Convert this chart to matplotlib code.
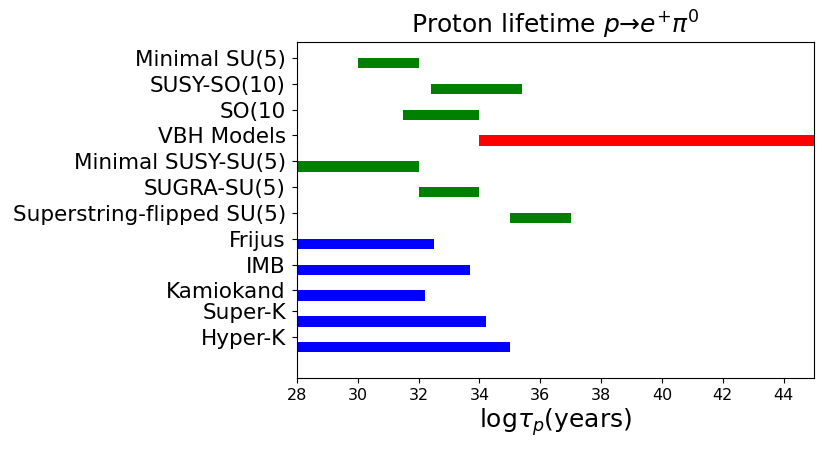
import matplotlib
matplotlib.use("Agg")
import matplotlib.pyplot as plt

labels = ["Minimal SU(5)", "SUSY-SO(10)", "SO(10", "VBH Models",
          "Minimal SUSY-SU(5)", "SUGRA-SU(5)", "Superstring-flipped SU(5)",
          "Frijus", "IMB", "Kamiokand", "Super-K", "Hyper-K"]
bar_pos = [12, 11, 10, 9, 8, 7, 6, 5, 4, 3, 2, 1]
tick_pos = [12.2, 11.2, 10.2, 9.2, 8.2, 7.2, 6.2, 5.2, 4.2, 3.2, 2.4, 1.4]
starts = [30.0, 32.4, 31.5, 34.0, 28.0, 32.0, 35.0, 28.0, 28.0, 28.0, 28.0, 28.0]
ends = [32.0, 35.4, 34.0, 50.0, 32.0, 34.0, 37.0, 32.5, 33.7, 32.2, 34.2, 35.0]
colors = ["green", "green", "green", "red", "green", "green", "green",
          "blue", "blue", "blue", "blue", "blue"]

fig = plt.figure(figsize=(8.3, 4.5), dpi=100)
ax = fig.add_axes([297/830, (450-378.3)/450, 517/830, 336/450])
widths = [e - s for s, e in zip(starts, ends)]
ax.barh(bar_pos, widths, left=starts, height=0.4, color=colors)
ax.set_xlim(28, 45)
ax.set_ylim(-0.2, 12.8)
ax.set_xticks(range(28, 45, 2))
ax.set_yticks(tick_pos)
ax.set_yticklabels(labels, fontsize=15.5)
ax.tick_params(axis="y", length=3.8, pad=4.2)
ax.tick_params(axis="x", labelsize=11.5, length=3.8)
ax.set_xlabel(r"log$\tau_p$(years)", fontsize=18, labelpad=2)
ax.set_title(r"Proton lifetime $p$→$e^{+}\pi^{0}$", fontsize=18)
fig.savefig("out.png", dpi=100)
